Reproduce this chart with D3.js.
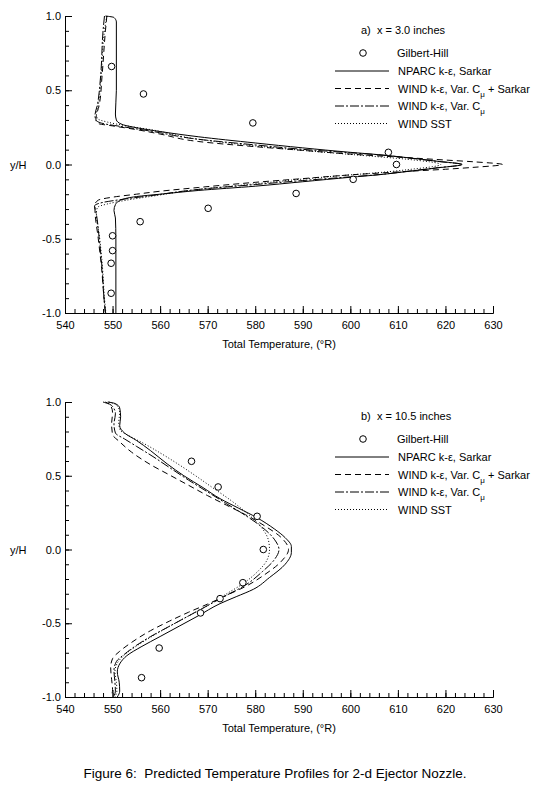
<!DOCTYPE html>
<html>
<head>
<meta charset="utf-8">
<script src="https://cdn.jsdelivr.net/npm/d3@7"></script>
<style>
body { margin: 0; background: #fff; }
text { font-family: "Liberation Sans", Arial, sans-serif; font-size: 11px; fill: #000; white-space: pre; }
.caption { font-size: 13.5px; }
.curve { fill: none; stroke: #000; stroke-width: 1; }
.domain { stroke: #000; }
.tick line { stroke: #000; }
</style>
</head>
<body>
<div id="graph"></div>
<script>
// Panel a) x = 3.0 inches : [T (deg R), y/H]
var gilbertA = [[549.8, 0.66], [556.5, 0.475], [579.5, 0.28], [608, 0.082], [609.7, 0.0], [600.6, -0.1],
  [588.6, -0.195], [570.1, -0.295], [555.8, -0.385], [550, -0.48], [550, -0.58], [549.7, -0.665], [549.7, -0.867]];
var nparcA = [[548.5, 1.0], [550.3, 0.99], [550.8, 0.96], [550.8, 0.5], [550.6, 0.34], [550.8, 0.3], [552, 0.27],
  [555.5, 0.245], [560, 0.222], [568, 0.187], [580, 0.145], [590, 0.112], [600, 0.082], [606, 0.066], [612, 0.046],
  [618, 0.023], [623.5, 0.0], [618, -0.024], [612, -0.047], [606, -0.069], [600, -0.086], [590, -0.116],
  [580, -0.146], [568, -0.175], [560, -0.2], [555, -0.216], [552, -0.236], [550.6, -0.27], [550.3, -0.31],
  [550.6, -0.36], [550.7, -0.5], [550.7, -1.0]];
var windSarkarA = [[548.8, 1.0], [548.5, 0.9], [547.8, 0.6], [547.2, 0.4], [546.6, 0.33], [546.5, 0.3], [547, 0.276],
  [550, 0.26], [555, 0.235], [560, 0.205], [568, 0.155], [580, 0.12], [590, 0.095], [600, 0.07], [610, 0.05],
  [620, 0.03], [626, 0.018], [632, 0.0], [626, -0.019], [620, -0.032], [610, -0.05], [600, -0.07], [590, -0.095],
  [580, -0.12], [568, -0.155], [560, -0.18], [555, -0.2], [550, -0.22], [547, -0.24], [546.3, -0.27],
  [546.3, -0.3], [547, -0.5], [547.7, -0.7], [548.2, -0.9], [548.5, -1.0]];
var windVarA = [[548.3, 1.0], [548, 0.9], [547.5, 0.6], [546.8, 0.4], [546.3, 0.33], [546.5, 0.3], [548, 0.276],
  [552, 0.255], [558, 0.225], [568, 0.17], [580, 0.132], [590, 0.102], [600, 0.079], [606, 0.065], [612, 0.045],
  [618, 0.022], [623.5, 0.0], [618, -0.023], [612, -0.046], [606, -0.068], [600, -0.083], [590, -0.108],
  [580, -0.135], [568, -0.168], [558, -0.21], [552, -0.235], [548, -0.255], [546.2, -0.28], [546.5, -0.32],
  [547.2, -0.5], [547.8, -0.7], [548.2, -0.9], [548.5, -1.0]];
var windSstA = [[548.8, 1.0], [548.3, 0.9], [547.6, 0.6], [547, 0.4], [546.6, 0.34], [546.8, 0.31], [549, 0.285],
  [553, 0.26], [558, 0.235], [568, 0.17], [580, 0.125], [590, 0.095], [600, 0.068], [604, 0.057], [612, 0.035],
  [619, 0.0], [612, -0.035], [604, -0.06], [600, -0.07], [590, -0.098], [580, -0.13], [568, -0.168],
  [558, -0.215], [553, -0.24], [549, -0.265], [546.8, -0.29], [546.6, -0.33], [547.3, -0.5], [547.9, -0.7],
  [548.3, -0.9], [548.6, -1.0]];

// Panel b) x = 10.5 inches
var gilbertB = [[566.6, 0.598], [572.2, 0.424], [580.4, 0.225], [581.7, 0.0], [577.4, -0.225], [572.6, -0.333],
  [568.5, -0.43], [559.8, -0.668], [556.1, -0.869]];
var nparcB = [[549, 1.0], [550.5, 0.99], [551.5, 0.96], [551.7, 0.9], [551.5, 0.84], [552.5, 0.79], [555, 0.74],
  [558, 0.67], [561.5, 0.58], [565, 0.5], [569, 0.42], [572.6, 0.345], [576.5, 0.28], [580.4, 0.215], [584, 0.14],
  [586.3, 0.08], [587.6, 0.02], [587.6, -0.02], [586.3, -0.1], [583, -0.19], [579.6, -0.27], [576, -0.32],
  [572.6, -0.367], [568, -0.45], [564, -0.52], [560, -0.59], [556, -0.66], [553, -0.72], [551.6, -0.77],
  [551, -0.83], [551.4, -0.9], [551.5, -0.96], [551, -1.0]];
var windSarkarB = [[548, 1.0], [549.5, 0.98], [550, 0.93], [549.8, 0.85], [550, 0.78], [551.5, 0.73], [554, 0.66],
  [558, 0.575], [562, 0.505], [566, 0.435], [570, 0.365], [574, 0.3], [578, 0.235], [582, 0.16], [585.5, 0.08],
  [587, 0.0], [585.5, -0.08], [582, -0.17], [578, -0.25], [574, -0.31], [570, -0.37], [566, -0.425],
  [562, -0.485], [558, -0.55], [554, -0.63], [551.5, -0.69], [550, -0.74], [549.6, -0.8], [549.8, -0.88],
  [550, -0.95], [549.7, -1.0]];
var windVarB = [[548.5, 1.0], [550, 0.97], [550.6, 0.92], [550.3, 0.85], [550.6, 0.79], [552.5, 0.75], [555, 0.7],
  [558.5, 0.63], [562, 0.555], [566, 0.47], [570, 0.39], [574, 0.31], [578, 0.23], [581.5, 0.15], [584, 0.07],
  [585, 0.0], [584, -0.07], [581.5, -0.15], [578, -0.24], [574, -0.31], [570, -0.38], [566, -0.45], [562, -0.52],
  [558, -0.59], [555, -0.65], [552.5, -0.71], [550.8, -0.76], [550.3, -0.82], [550.5, -0.9], [550.6, -0.96],
  [550.2, -1.0]];
var windSstB = [[549.2, 1.0], [550.8, 0.98], [551.5, 0.93], [551.3, 0.86], [551.6, 0.81], [553.5, 0.77],
  [556.5, 0.72], [560, 0.655], [563.5, 0.585], [567, 0.51], [571, 0.42], [575, 0.33], [578.5, 0.24], [581.3, 0.15],
  [582.8, 0.06], [583, 0.0], [582.5, -0.07], [580.5, -0.15], [577.5, -0.23], [574, -0.3], [570, -0.38],
  [566, -0.45], [562, -0.52], [558, -0.595], [555, -0.655], [552.5, -0.715], [551, -0.77], [550.5, -0.83],
  [550.8, -0.9], [550.9, -0.96], [550.5, -1.0]];

var xMajor = [540, 550, 560, 570, 580, 590, 600, 610, 620, 630];
var yMajor = [-1.0, -0.5, 0.0, 0.5, 1.0];
var panelTitles = ["a)  x = 3.0 inches", "b)  x = 10.5 inches"];

var width = 542, height = 785;
var svg = d3.select("#graph").append("svg").attr("width", width).attr("height", height);

var x = d3.scaleLinear().domain([540, 630]).range([65, 493]);
var dashes = { solid: null, dashed: "6,4", dashdot: "9,2,2,2", dotted: "1,2" };

var legendRows = [
  { name: "NPARC k-\u03b5, Sarkar", style: "solid" },
  { name: "WIND k-\u03b5, Var. C", sub: "\u03bc", after: " + Sarkar", style: "dashed" },
  { name: "WIND k-\u03b5, Var. C", sub: "\u03bc", after: "", style: "dashdot" },
  { name: "WIND SST", style: "dotted" }
];

function drawPanel(top, bottom, title, points, series) {
  var y = d3.scaleLinear().domain([-1, 1]).range([bottom, top]);
  var g = svg.append("g");

  // minor ticks
  g.append("g").attr("transform", "translate(0," + bottom + ")")
    .call(d3.axisBottom(x).tickValues(d3.range(540, 631, 2)).tickSize(-4).tickSizeOuter(0).tickFormat(""));
  g.append("g").attr("transform", "translate(65,0)")
    .call(d3.axisLeft(y).tickValues(d3.range(-10, 11).map(function (d) { return d / 10; })).tickSize(-4).tickSizeOuter(0).tickFormat(""));

  var xa = g.append("g").attr("transform", "translate(0," + bottom + ")")
    .call(d3.axisBottom(x).tickValues(xMajor).tickSize(-7).tickSizeOuter(0).tickFormat(function (d) { return d; }));
  xa.selectAll("text").attr("dy", "0.71em").attr("y", 8);
  g.append("g").attr("transform", "translate(65,0)")
    .call(d3.axisLeft(y).tickValues(yMajor).tickSize(-7).tickSizeOuter(0).tickFormat(function (d) { return d.toFixed(1); }))
    .selectAll("text").attr("x", -4);
  svg.selectAll(".tick text").style("font-size", "11px").style("font-family", "'Liberation Sans', Arial, sans-serif");

  g.append("text").attr("x", 279).attr("y", bottom + 35).attr("text-anchor", "middle").text("Total Temperature, (\u00b0R)");
  g.append("text").attr("x", 10).attr("y", y(0) + 4).text("y/H");

  var line = d3.line().x(function (d) { return x(d[0]); }).y(function (d) { return y(d[1]); }).curve(d3.curveMonotoneY);
  series.forEach(function (s) {
    g.append("path").datum(s.data).attr("class", "curve").attr("d", line)
      .attr("stroke-dasharray", dashes[s.style]);
  });

  g.selectAll(".pt").data(points).enter().append("circle")
    .attr("cx", function (d) { return x(d[0]); }).attr("cy", function (d) { return y(d[1]); })
    .attr("r", 3.3).attr("fill", "#fff").attr("stroke", "#000");

  // legend
  g.append("text").attr("x", 361).attr("y", top + 18).text(title);
  g.append("circle").attr("cx", 363).attr("cy", top + 37).attr("r", 3.3).attr("fill", "#fff").attr("stroke", "#000");
  g.append("text").attr("x", 397).attr("y", top + 41).text("Gilbert-Hill");
  legendRows.forEach(function (r, i) {
    var yy = top + 55 + i * 17.5;
    g.append("line").attr("x1", 335).attr("x2", 389).attr("y1", yy).attr("y2", yy)
      .attr("stroke", "#000").attr("stroke-dasharray", dashes[r.style]);
    var t = g.append("text").attr("x", 398).attr("y", yy + 4);
    t.append("tspan").text(r.name);
    if (r.sub) {
      t.append("tspan").attr("dy", 4).style("font-size", "8px").text(r.sub);
      t.append("tspan").attr("dy", -4).text(r.after);
    }
  });
}

drawPanel(16, 313, panelTitles[0], gilbertA, [
  { data: nparcA, style: "solid" }, { data: windSarkarA, style: "dashed" },
  { data: windVarA, style: "dashdot" }, { data: windSstA, style: "dotted" }]);
drawPanel(402, 697, panelTitles[1], gilbertB, [
  { data: nparcB, style: "solid" }, { data: windSarkarB, style: "dashed" },
  { data: windVarB, style: "dashdot" }, { data: windSstB, style: "dotted" }]);

svg.append("text").attr("class", "caption").attr("x", 275).attr("y", 778).attr("text-anchor", "middle")
  .text("Figure 6:  Predicted Temperature Profiles for 2-d Ejector Nozzle.");
</script>
</body>
</html>
